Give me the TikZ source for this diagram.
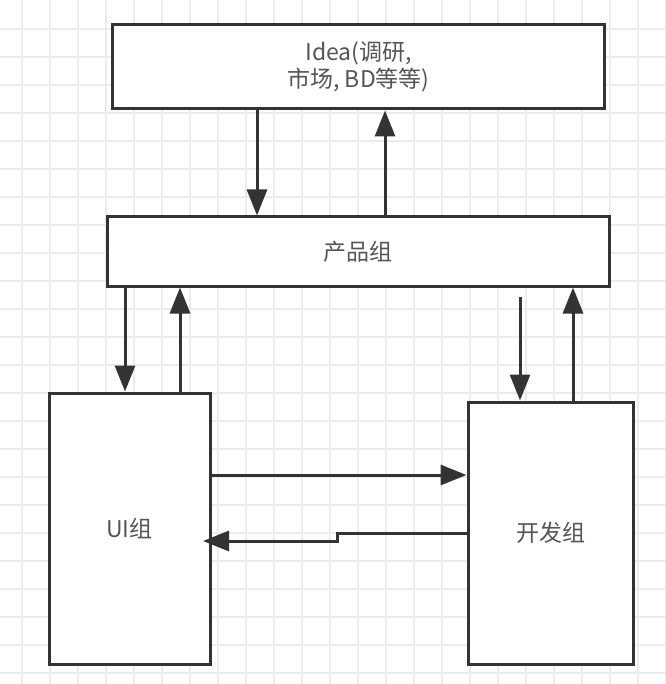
\documentclass[tikz,border=0pt]{standalone}
\usepackage{fontspec}
\setmainfont{Noto Sans CJK SC}
\usetikzlibrary{arrows.meta}
\definecolor{gridc}{HTML}{EBEBEB}
\definecolor{linec}{HTML}{333333}
\definecolor{textc}{HTML}{555555}
\tikzset{
  box/.style={draw=linec, line width=3pt, fill=white, text=textc, align=center, inner sep=0pt, font=\fontsize{23}{27}\selectfont},
  arr/.style={draw=linec, line width=3pt, -{Triangle[length=26pt,width=20pt]}},
  ln/.style={draw=linec, line width=3pt}
}
\begin{document}
\begin{tikzpicture}[x=1pt,y=-1pt]
\useasboundingbox (0,0) rectangle (665,684);
\fill[white] (0,0) rectangle (665,684);
% grid
\foreach \i in {0,...,23} {
  \draw[gridc, line width=1.5pt] ({22+28*\i},0) -- ({22+28*\i},684);
}
\foreach \i in {0,...,23} {
  \draw[gridc, line width=1.5pt] (0,{29+28*\i}) -- (665,{29+28*\i});
}
% boxes
\node[box, minimum width=492pt, minimum height=84pt] (idea) at (358.5,67) {Idea(调研,\\市场, BD等等)};
\node[box, minimum width=502pt, minimum height=69pt] (prod) at (358,251.5) {产品组};
\node[box, minimum width=161pt, minimum height=271pt] (ui) at (129.5,528.5) {UI组};
\node[box, minimum width=165pt, minimum height=262pt] (dev) at (550.5,533) {开发组};
% x/y guides
\coordinate (xa) at (257,0);
\coordinate (xb) at (385,0);
\coordinate (xc) at (125,0);
\coordinate (xd) at (180,0);
\coordinate (xe) at (520,0);
\coordinate (xf) at (573,0);
\coordinate (ya) at (0,475);
\coordinate (yb) at (0,533);
\coordinate (devfree) at (520,297);
\coordinate (step1) at (337,533);
\coordinate (step2) at (337,541);
\coordinate (uitip) at (203,541);
% connectors
\draw[arr] (idea.south -| xa) -- (prod.north -| xa);
\draw[arr] (prod.north -| xb) -- (idea.south -| xb);
\draw[arr] (prod.south -| xc) -- (ui.north -| xc);
\draw[arr] (ui.north -| xd) -- (prod.south -| xd);
\draw[arr] (devfree) -- (dev.north -| xe);
\draw[arr] (dev.north -| xf) -- (prod.south -| xf);
\draw[arr] (ui.east |- ya) -- (dev.west |- ya);
\draw[arr] (dev.west |- yb) -- (step1) -- (step2) -- (uitip);
\end{tikzpicture}
\end{document}
